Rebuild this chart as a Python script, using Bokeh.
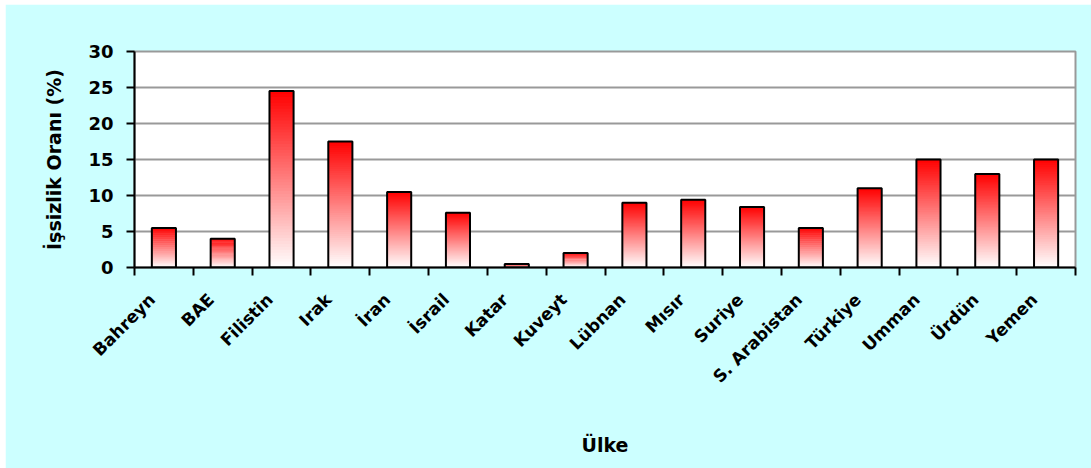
import math
from bokeh.plotting import figure
from bokeh.models import ColumnDataSource, FixedTicker, Range1d, LinearAxis
from bokeh.embed import file_html
from bokeh.resources import INLINE

countries = ["Bahreyn", "BAE", "Filistin", "Irak", "İran", "İsrail", "Katar", "Kuveyt",
             "Lübnan", "Mısır", "Suriye", "S. Arabistan", "Türkiye", "Umman", "Ürdün", "Yemen"]
rates = [5.5, 4.0, 24.5, 17.5, 10.5, 7.6, 0.5, 2.0, 9.0, 9.4, 8.4, 5.5, 11.0, 15.0, 13.0, 15.0]
y_ticks = [0, 5, 10, 15, 20, 25, 30]
x_title = "Ülke"
y_title = "İşsizlik Oranı (%)"

FONT = "DejaVu Sans"
N = 60
BAR_W = 0.41
LABEL_SHIFT = 0.2  # shifts the rotated category labels slightly left of bar centres

# gradient slices (white at bottom -> red at top), slightly overlapping to avoid seams
xs, bots, tops, cols = [], [], [], []
for i, v in enumerate(rates):
    for j in range(N):
        t = (j + 0.5) / N
        g = int(round(255 * (1 - t)))
        xs.append(i + 0.5)
        bots.append(v * j / N)
        tops.append(min(v, v * (j + 1.8) / N))
        cols.append("#%02x%02x%02x" % (255, g, g))
grad = ColumnDataSource(dict(x=xs, bottom=bots, top=tops, color=cols))
centers = [i + 0.5 for i in range(len(countries))]
bars = ColumnDataSource(dict(x=centers, top=rates))

n = len(countries)
p = figure(width=1086, height=464, x_range=Range1d(0, n), y_range=Range1d(0, 30),
           output_backend="svg", toolbar_location=None,
           min_border_left=129, min_border_top=47, min_border_right=16, min_border_bottom=201)
p.margin = (4, 0, 0, 5)
p.border_fill_color = "#CCFFFF"
p.background_fill_color = "white"
p.outline_line_color = "#999999"
p.outline_line_width = 2
p.extra_x_ranges = {"lab": Range1d(LABEL_SHIFT, n + LABEL_SHIFT)}

p.vbar(x="x", bottom="bottom", top="top", width=BAR_W, fill_color="color", line_color=None, source=grad)
p.vbar(x="x", bottom=0, top="top", width=BAR_W, fill_alpha=0, line_color="black", line_width=2, source=bars)

p.xgrid.grid_line_color = None
p.ygrid.grid_line_color = "#999999"
p.ygrid.grid_line_width = 2

# y axis
p.yaxis.ticker = FixedTicker(ticks=y_ticks, minor_ticks=[])
p.yaxis.axis_line_color = "black"
p.yaxis.axis_line_width = 2
p.yaxis.major_tick_line_width = 2
p.yaxis.major_tick_out = 8
p.yaxis.major_tick_in = 0
p.yaxis.major_label_standoff = 13
p.yaxis.major_label_text_font = FONT
p.yaxis.major_label_text_font_style = "bold"
p.yaxis.major_label_text_font_size = "18px"
p.yaxis.major_label_text_color = "black"
p.yaxis.axis_label = y_title
p.yaxis.axis_label_text_font = FONT
p.yaxis.axis_label_text_font_style = "bold"
p.yaxis.axis_label_text_font_size = "19px"
p.yaxis.axis_label_text_color = "black"
p.yaxis.axis_label_standoff = 20

# x axis: ticks at category boundaries
p.xaxis.ticker = FixedTicker(ticks=[], minor_ticks=list(range(n + 1)))
p.xaxis.axis_line_color = "black"
p.xaxis.axis_line_width = 2
p.xaxis.minor_tick_out = 8
p.xaxis.minor_tick_in = 0
p.xaxis.minor_tick_line_color = "black"
p.xaxis.minor_tick_line_width = 2

# second axis carrying the rotated category names
lab_axis = LinearAxis(x_range_name="lab", ticker=FixedTicker(ticks=centers, minor_ticks=[]))
lab_axis.major_label_overrides = {c: name for c, name in zip(centers, countries)}
lab_axis.axis_line_color = None
lab_axis.major_tick_line_color = None
lab_axis.major_tick_out = 0
lab_axis.major_tick_in = 0
lab_axis.minor_tick_out = 0
lab_axis.minor_tick_in = 0
lab_axis.major_label_orientation = math.pi / 4
lab_axis.major_label_standoff = 21
lab_axis.major_label_text_font = FONT
lab_axis.major_label_text_font_style = "bold"
lab_axis.major_label_text_font_size = "17px"
lab_axis.major_label_text_color = "black"
lab_axis.axis_label = x_title
lab_axis.axis_label_text_font = FONT
lab_axis.axis_label_text_font_style = "bold"
lab_axis.axis_label_text_font_size = "19px"
lab_axis.axis_label_text_color = "black"
lab_axis.axis_label_standoff = 37
p.add_layout(lab_axis, "below")

open("out.html", "w").write(file_html(p, INLINE))
